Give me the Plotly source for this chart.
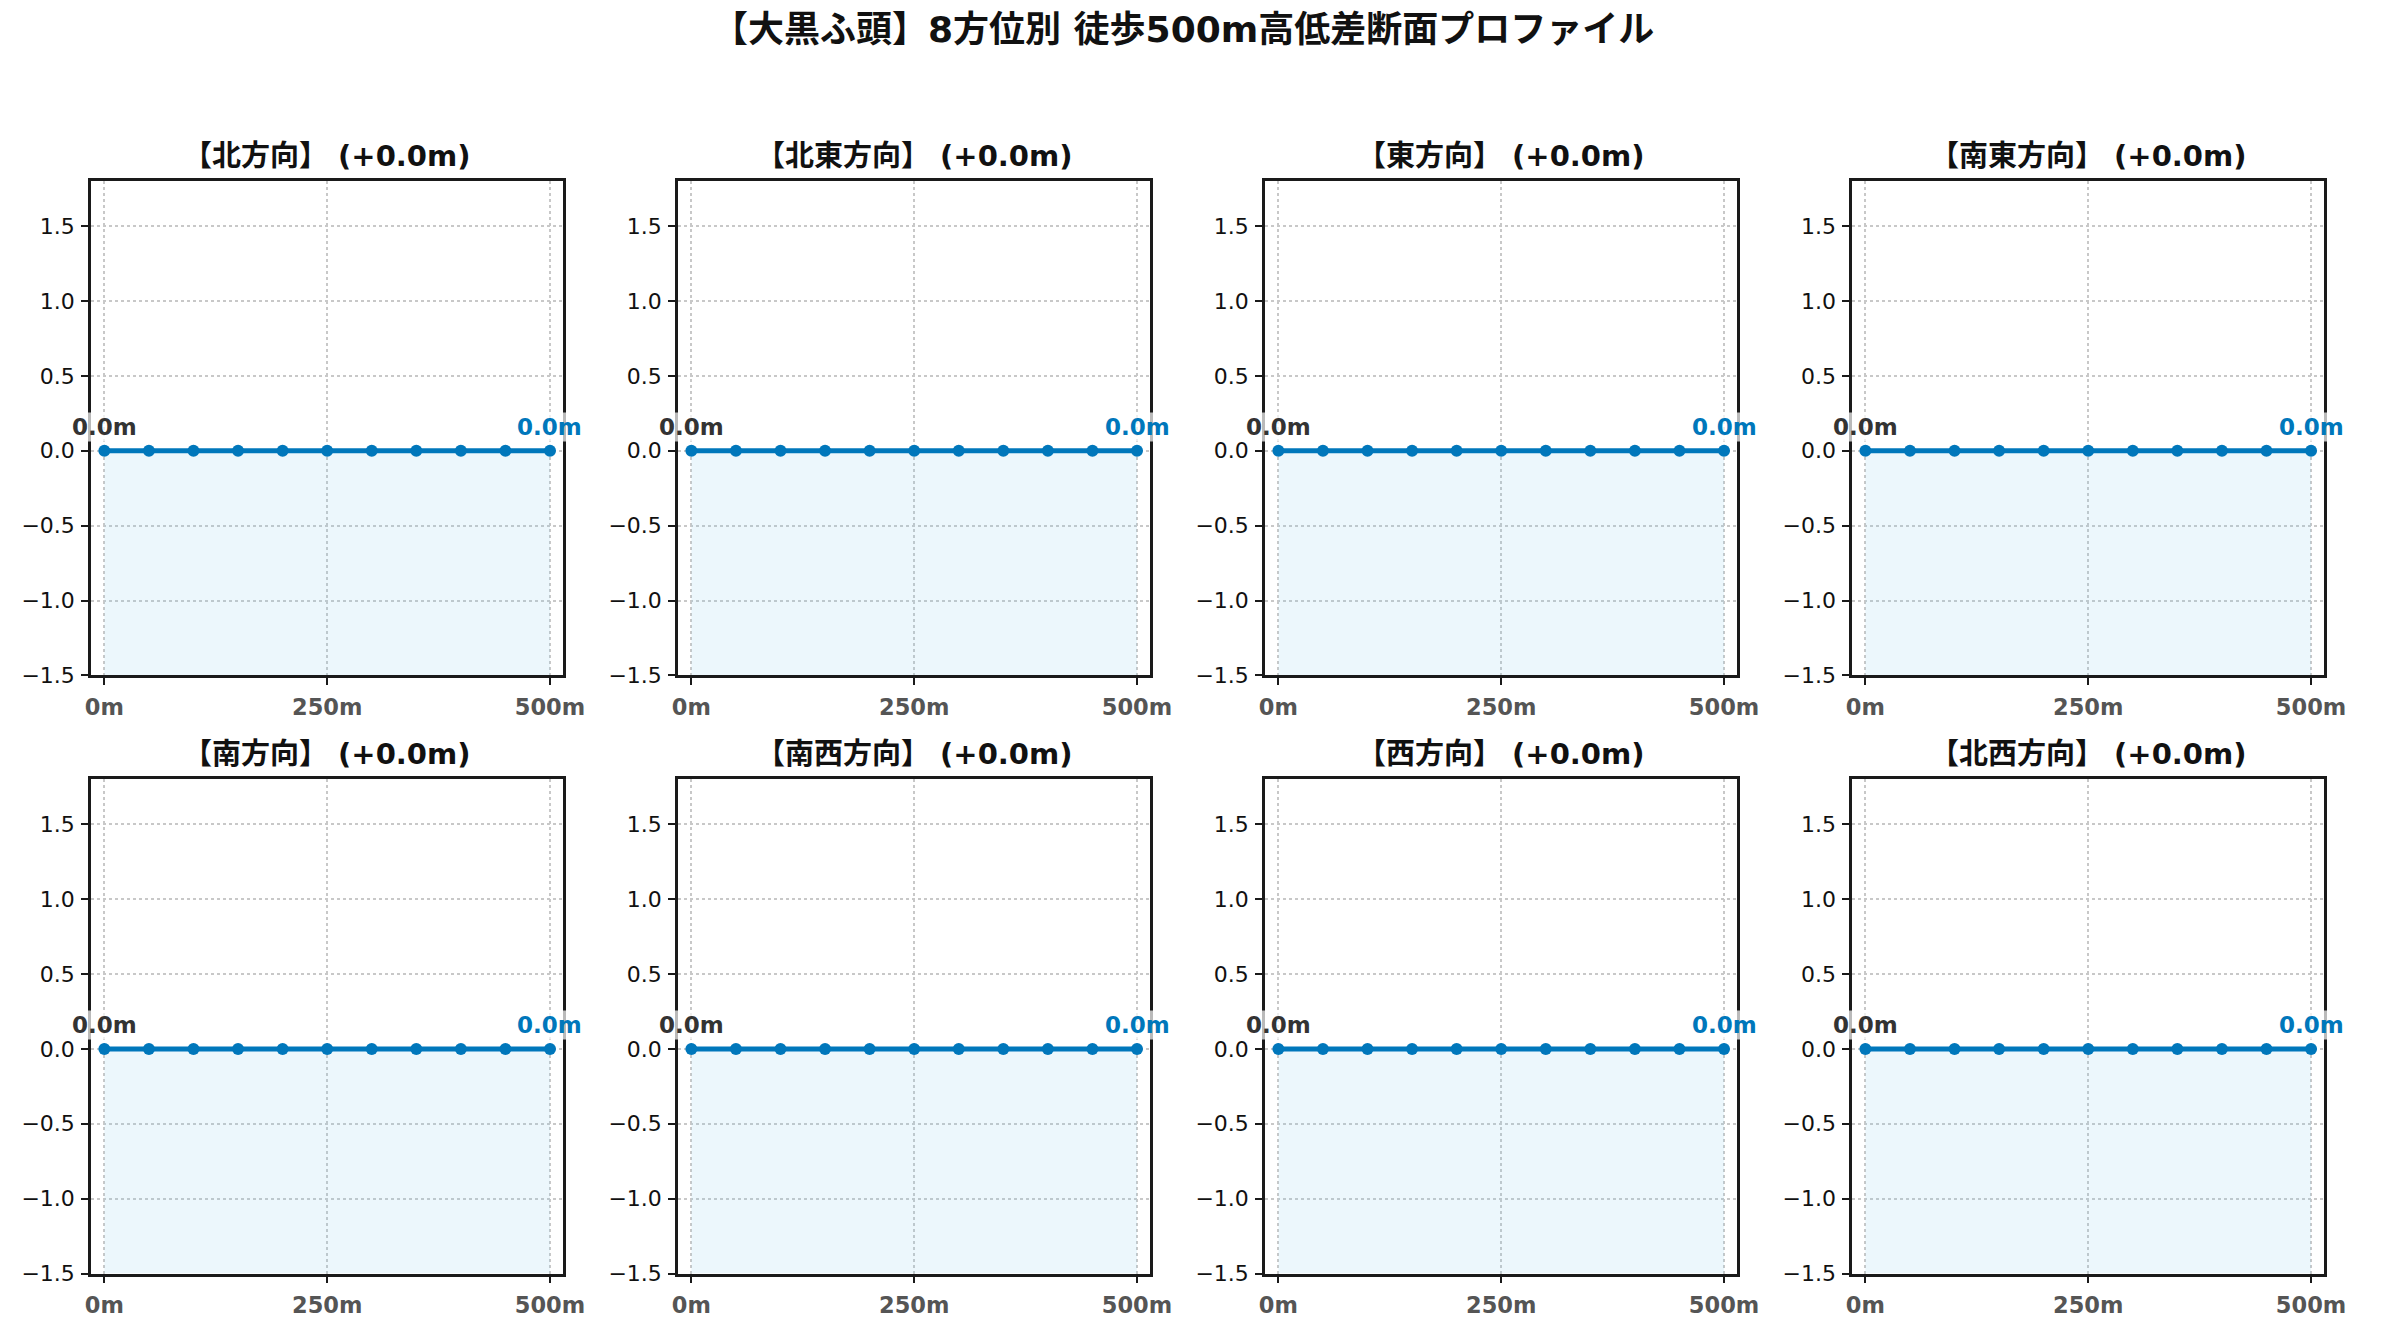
import plotly.graph_objects as go

# ---- data ----
main_title = "【大黒ふ頭】8方位別 徒歩500m高低差断面プロファイル"
directions = ["北方向", "北東方向", "東方向", "南東方向", "南方向", "南西方向", "西方向", "北西方向"]
distances = [0, 50, 100, 150, 200, 250, 300, 350, 400, 450, 500]
elev_n = [0.0, 0.0, 0.0, 0.0, 0.0, 0.0, 0.0, 0.0, 0.0, 0.0, 0.0]
elev_ne = [0.0, 0.0, 0.0, 0.0, 0.0, 0.0, 0.0, 0.0, 0.0, 0.0, 0.0]
elev_e = [0.0, 0.0, 0.0, 0.0, 0.0, 0.0, 0.0, 0.0, 0.0, 0.0, 0.0]
elev_se = [0.0, 0.0, 0.0, 0.0, 0.0, 0.0, 0.0, 0.0, 0.0, 0.0, 0.0]
elev_s = [0.0, 0.0, 0.0, 0.0, 0.0, 0.0, 0.0, 0.0, 0.0, 0.0, 0.0]
elev_sw = [0.0, 0.0, 0.0, 0.0, 0.0, 0.0, 0.0, 0.0, 0.0, 0.0, 0.0]
elev_w = [0.0, 0.0, 0.0, 0.0, 0.0, 0.0, 0.0, 0.0, 0.0, 0.0, 0.0]
elev_nw = [0.0, 0.0, 0.0, 0.0, 0.0, 0.0, 0.0, 0.0, 0.0, 0.0, 0.0]
series = [elev_n, elev_ne, elev_e, elev_se, elev_s, elev_sw, elev_w, elev_nw]
x_tickvals = [0, 250, 500]
x_ticktext = ["0m", "250m", "500m"]
y_tickvals = [-1.5, -1.0, -0.5, 0.0, 0.5, 1.0, 1.5]
y_min, y_max = -1.5, 1.8
x_min, x_max = -15, 515

# ---- styling ----
W, H = 2382, 1340
FONT = "DejaVu Sans, Noto Sans CJK JP, sans-serif"
LINE_C = "#0077bb"
FILL_C = "rgba(135,206,235,0.16)"
col_left = [86, 680, 1274, 1868]
col_w = 478
row_top = [183, 787]
row_h = 499

fig = go.Figure()
annotations = []

for i, (name, ys) in enumerate(zip(directions, series)):
    r, c = divmod(i, 4)
    k = i + 1
    xa = "x" if k == 1 else f"x{k}"
    ya = "y" if k == 1 else f"y{k}"
    x0 = col_left[c] / W
    x1 = (col_left[c] + col_w) / W
    yt = 1 - row_top[r] / H
    yb = 1 - (row_top[r] + row_h) / H

    fig.add_trace(go.Scatter(x=distances, y=[y_min] * len(distances), mode="lines",
                             line=dict(width=0), showlegend=False, hoverinfo="skip",
                             xaxis=xa, yaxis=ya))
    fig.add_trace(go.Scatter(x=distances, y=ys, mode="lines", line=dict(width=0),
                             fill="tonexty", fillcolor=FILL_C, showlegend=False,
                             hoverinfo="skip", xaxis=xa, yaxis=ya))
    fig.add_trace(go.Scatter(x=distances, y=ys, mode="lines+markers",
                             line=dict(color=LINE_C, width=5),
                             marker=dict(color=LINE_C, size=12),
                             showlegend=False, xaxis=xa, yaxis=ya, cliponaxis=False))

    axis_common = dict(showline=True, linecolor="#1a1a1a", linewidth=2.5, mirror=True,
                       ticks="outside", ticklen=7, tickwidth=1.7, tickcolor="#1a1a1a",
                       showgrid=True, gridcolor="#c8c8c8", griddash="dot", gridwidth=1.5,
                       zeroline=False)
    fig.layout[f"xaxis{'' if k == 1 else k}"] = dict(
        axis_common, domain=[x0, x1], anchor=ya, range=[x_min, x_max],
        tickvals=x_tickvals, ticktext=x_ticktext, ticklabelstandoff=3,
        tickfont=dict(family=FONT, size=22.5, color="#555555", weight="bold"))
    fig.layout[f"yaxis{'' if k == 1 else k}"] = dict(
        axis_common, domain=[yb, yt], anchor=xa, range=[y_min, y_max],
        tickvals=y_tickvals, tickformat=".1f", ticklabelstandoff=2,
        tickfont=dict(family=FONT, size=22, color="#111111"))

    diff = ys[-1] - ys[0]
    annotations.append(dict(
        text=f"【{name}】 ({diff:+.1f}m)", xref="paper", yref="paper",
        x=(x0 + x1) / 2, y=yt + 6 / H, xanchor="center", yanchor="bottom",
        showarrow=False, font=dict(family=FONT, size=29, color="#111111", weight="bold")))
    annotations.append(dict(
        text=f"{ys[0]:.1f}m", xref=xa, yref=ya, x=distances[0], y=ys[0],
        xanchor="center", yanchor="bottom", yshift=9, showarrow=False,
        bgcolor="rgba(255,255,255,0.7)", borderpad=1,
        font=dict(family=FONT, size=23, color="#333333", weight="bold")))
    annotations.append(dict(
        text=f"{ys[-1]:.1f}m", xref=xa, yref=ya, x=distances[-1], y=ys[-1],
        xanchor="center", yanchor="bottom", yshift=9, showarrow=False,
        bgcolor="rgba(255,255,255,0.7)", borderpad=1,
        font=dict(family=FONT, size=23, color=LINE_C, weight="bold")))

annotations.append(dict(
    text=main_title, xref="paper", yref="paper", x=0.5, y=1 - 30 / H,
    xanchor="center", yanchor="middle", showarrow=False,
    font=dict(family=FONT, size=36, color="#111111", weight="bold")))

fig.update_layout(width=W, height=H, margin=dict(l=0, r=0, t=0, b=0),
                  paper_bgcolor="white", plot_bgcolor="white",
                  annotations=annotations, showlegend=False)

fig.write_html("out.html", config={"displayModeBar": False},
               post_script="document.body.style.margin='0px';"
                           "document.body.style.overflow='hidden';")
